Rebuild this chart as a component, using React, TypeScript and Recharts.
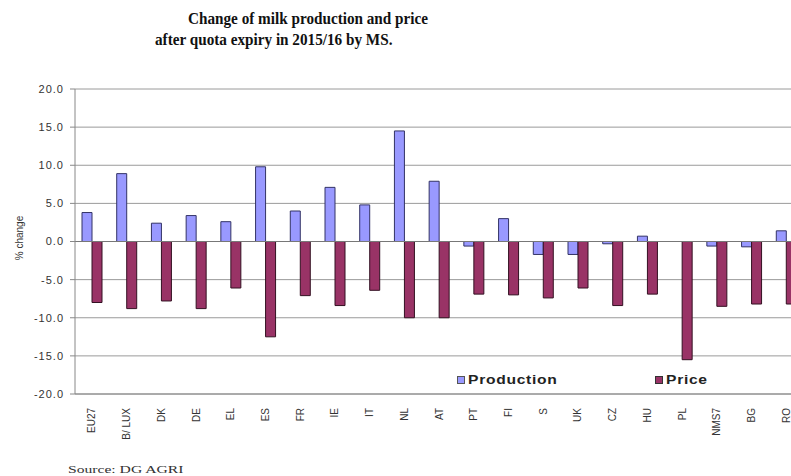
import { Bar, BarChart, CartesianGrid, ReferenceLine, XAxis, YAxis } from "recharts";

const categories = ["EU27", "B/ LUX", "DK", "DE", "EL", "ES", "FR", "IE", "IT", "NL", "AT", "PT", "FI", "S", "UK", "CZ", "HU", "PL", "NMS7", "BG", "RO"];
const production = [3.8, 8.9, 2.4, 3.4, 2.6, 9.8, 4.0, 7.1, 4.8, 14.5, 7.9, -0.6, 3.0, -1.7, -1.7, -0.3, 0.7, 0, -0.6, -0.7, 1.4];
const price = [-8.0, -8.8, -7.8, -8.8, -6.1, -12.5, -7.1, -8.4, -6.4, -10.0, -10.0, -6.9, -7.0, -7.4, -6.1, -8.4, -6.9, -15.5, -8.5, -8.2, -8.2];
const yTicks = [-20, -15, -10, -5, 0, 5, 10, 15, 20];

const PROD = "#9999FF";
const PRICE = "#993366";
const SANS = "'Liberation Sans', Arial, sans-serif";
const SERIF = "'Liberation Serif', 'Times New Roman', serif";

const rows = categories.map((c, i) => ({ ms: c, production: production[i], price: price[i] }));

function RotatedTick({ x, y, payload }: { x?: number; y?: number; payload?: { value: string } }) {
  return (
    <text
      x={0}
      y={0}
      transform={`translate(${(x ?? 0) + 3},${(y ?? 0) + 6}) rotate(-90)`}
      textAnchor="end"
      fontSize={10}
      fontFamily={SANS}
      fill="#333"
    >
      {payload?.value}
    </text>
  );
}

// legend boxes sit inside the plot, like the Excel original
function LegendItem({ left, color, border, label }: { left: number; color: string; border: string; label: string }) {
  return (
    <div style={{ position: "absolute", left, top: 372, display: "flex", alignItems: "center", gap: 3 }}>
      <span style={{ display: "block", width: 6, height: 6, background: color, border: `1px solid ${border}` }} />
      <span
        style={{
          display: "inline-block",
          fontFamily: SANS,
          fontSize: 13,
          fontWeight: "bold",
          color: "#222",
          letterSpacing: 0.6,
          transform: "scaleX(1.2)",
          transformOrigin: "left center",
        }}
      >
        {label}
      </span>
    </div>
  );
}

export default function App() {
  return (
    <div style={{ position: "absolute", left: 0, top: 0, width: 791, height: 476, overflow: "hidden", background: "#fff" }}>
      <div style={{ position: "absolute", left: 188, top: 10, fontFamily: SERIF, fontWeight: "bold", fontSize: 16, whiteSpace: "nowrap", color: "#111", transform: "scaleX(0.95)", transformOrigin: "left top" }}>
        Change of milk production and price
      </div>
      <div style={{ position: "absolute", left: 155, top: 31, fontFamily: SERIF, fontWeight: "bold", fontSize: 16, whiteSpace: "nowrap", color: "#111", transform: "scaleX(0.95)", transformOrigin: "left top" }}>
        after quota expiry in 2015/16 by MS.
      </div>
      <div style={{ position: "absolute", left: 68, top: 463, fontFamily: SERIF, fontSize: 11, whiteSpace: "nowrap", color: "#333", transform: "scaleX(1.42)", transformOrigin: "left top" }}>
        Source: DG AGRI
      </div>
      <div style={{ position: "absolute", left: 19, top: 238, fontFamily: SANS, fontSize: 10, whiteSpace: "nowrap", color: "#333", transform: "translate(-50%, -50%) rotate(-90deg)" }}>
        % change
      </div>
      <BarChart
        width={830}
        height={476}
        data={rows}
        margin={{ top: 89, right: 26, bottom: 0, left: 0 }}
        barCategoryGap={7}
        barGap={0}
      >
        <CartesianGrid stroke="#9a9a9a" vertical={false} />
        <XAxis
          dataKey="ms"
          interval={0}
          tick={<RotatedTick />}
          tickLine={false}
          axisLine={{ stroke: "#888" }}
          height={82}
        />
        <YAxis
          domain={[-20, 20]}
          ticks={yTicks}
          tickFormatter={(v: number) => v.toFixed(1)}
          tick={{ fontSize: 11, fontFamily: SANS, fill: "#333", letterSpacing: 1 }}
          tickSize={5}
          tickMargin={6}
          axisLine={{ stroke: "#888" }}
          tickLine={{ stroke: "#888" }}
          width={75}
        />
        <ReferenceLine y={0} stroke="#777" />
        <Bar dataKey="production" name="Production" fill={PROD} stroke="#333366" strokeWidth={1} isAnimationActive={false} />
        <Bar dataKey="price" name="Price" fill={PRICE} stroke="#331122" strokeWidth={1} isAnimationActive={false} />
      </BarChart>
      <LegendItem left={457} color={PROD} border="#555" label="Production" />
      <LegendItem left={655} color={PRICE} border="#333" label="Price" />
    </div>
  );
}
